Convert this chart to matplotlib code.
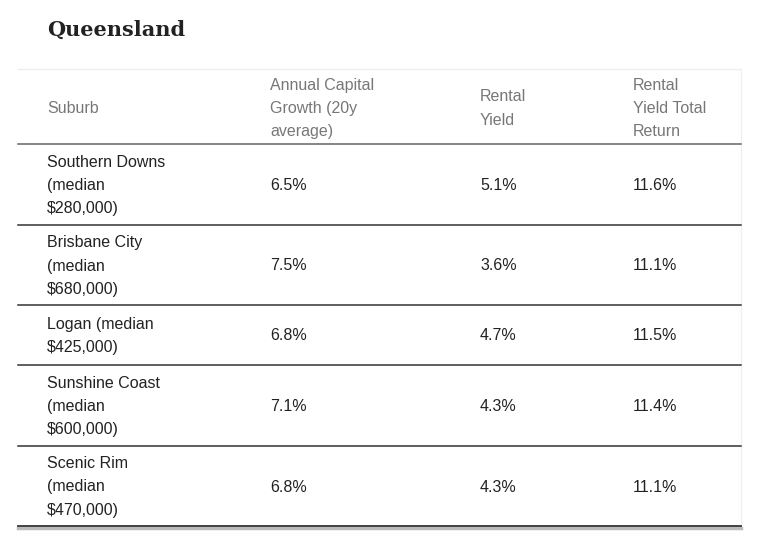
import matplotlib
matplotlib.use("Agg")
import matplotlib.pyplot as plt

title = "Queensland"
headers = ["Suburb", "Annual Capital\nGrowth (20y\naverage)", "Rental\nYield", "Rental\nYield Total\nReturn"]
suburbs = ["Southern Downs\n(median\n$280,000)", "Brisbane City\n(median\n$680,000)",
           "Logan (median\n$425,000)", "Sunshine Coast\n(median\n$600,000)", "Scenic Rim\n(median\n$470,000)"]
growth = ["6.5%", "7.5%", "6.8%", "7.1%", "6.8%"]
rental_yield = ["5.1%", "3.6%", "4.7%", "4.3%", "4.3%"]
total_return = ["11.6%", "11.1%", "11.5%", "11.4%", "11.1%"]

W, H = 776, 557
fig = plt.figure(figsize=(W / 100, H / 100), dpi=100)
ax = fig.add_axes([0, 0, 1, 1])
ax.set_xlim(0, W)
ax.set_ylim(H, 0)
ax.axis("off")

col_x = [47, 270, 480, 633]
left, right = 18, 741
header_top, header_bottom = 69, 144
row_bottoms = [225, 305, 365, 446, 526]
font = "Liberation Sans"
fs = 11.5
ls = 1.7

ax.text(47, 30, title, fontsize=15, fontweight="bold", family="DejaVu Serif",
        color="#222222", va="center", ha="left")

# header
ax.plot([left, right], [header_top, header_top], color="#eeeeee", lw=1)
ax.plot([right, right], [header_top, row_bottoms[-1]], color="#f0f0f0", lw=1)
hc = (header_top + header_bottom) / 2 + 2
for x, h in zip(col_x, headers):
    ax.text(x, hc, h, fontsize=fs, family=font, color="#777777", va="center", ha="left",
            linespacing=ls)
ax.plot([left, right], [header_bottom, header_bottom], color="#666666", lw=1.1)

tops = [header_bottom] + row_bottoms[:-1]
for i, (s, g, y, t) in enumerate(zip(suburbs, growth, rental_yield, total_return)):
    yc = (tops[i] + row_bottoms[i]) / 2 + 1
    for x, v in zip(col_x, [s, g, y, t]):
        ax.text(x, yc, v, fontsize=fs, family=font, color="#222222", va="center", ha="left",
                linespacing=ls)
    last = i == len(suburbs) - 1
    if last:
        ax.plot([left, right], [row_bottoms[i] + 1.5, row_bottoms[i] + 1.5], color="#bbbbbb", lw=2.5)
    ax.plot([left, right], [row_bottoms[i], row_bottoms[i]], color="#333333", lw=1.3 if last else 1.1)

fig.savefig("out.png", dpi=100, facecolor="white")
